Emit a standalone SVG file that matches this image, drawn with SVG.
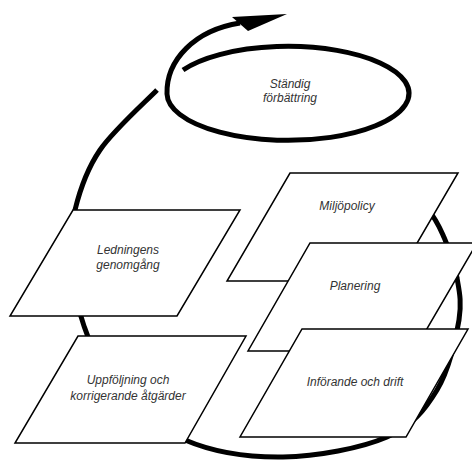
<svg xmlns="http://www.w3.org/2000/svg" width="472" height="461" viewBox="0 0 472 461">
<style>
.loop{fill:none;stroke:#000;stroke-width:5;stroke-linecap:butt}
.box{fill:#fff;stroke:#000;stroke-width:1.5;stroke-linejoin:miter}
.lbl{font-family:"Liberation Sans",Arial,sans-serif;font-size:12px;font-style:italic;fill:#333;text-anchor:middle}
</style>
<rect width="472" height="461" fill="#fff"/>
<g id="connectors">
<path class="loop" d="M157,90 C147.5,100 113.7,130 100,150 C86.3,170 79.7,190.8 75,210 C70.3,229.2 70.5,245.7 72,265 C73.5,284.3 76.8,306 84,326 C91.2,346 98.2,366 115,385 C131.8,404 157,428 185,440 C213,452 249.3,457.5 283,457 C316.7,456.5 361.3,448.2 387,437 C412.7,425.8 425.2,409.5 437,390 C448.8,370.5 456,339 459,320 C462,301 459,290 457,278 C455,262 448,246.7 443,235 C438,223.3 432.2,214.2 425,205 C417.8,195.8 404.2,184.2 400,180"/>
<path class="loop" d="M183,70 A121,47 0 1 1 167,94 C166,60 195,30 240,23"/>
<polygon points="287,14 232,17 240,24 248,31" fill="#000"/>
</g>
<g id="node-standig">
<text class="lbl" x="290" y="88">Ständig</text>
<text class="lbl" x="290" y="102">förbättring</text>
</g>
<g id="node-ledningens">
<polygon class="box" points="73,210 240,210 177,316 10,316"/>
<text class="lbl" x="128" y="254">Ledningens</text>
<text class="lbl" x="128" y="269">genomgång</text>
</g>
<g id="node-uppfoljning">
<polygon class="box" points="78,336 246,336 185,443 15,443"/>
<text class="lbl" x="128" y="384">Uppföljning och</text>
<text class="lbl" x="128" y="400">korrigerande åtgärder</text>
</g>
<g id="node-miljopolicy">
<polygon class="box" points="290,173 458,173 395,281 227,281"/>
<text class="lbl" x="347" y="210">Miljöpolicy</text>
</g>
<g id="node-planering">
<polygon class="box" points="310,243 477,243 414,351 248,351"/>
<text class="lbl" x="355" y="290">Planering</text>
</g>
<g id="node-inforande">
<polygon class="box" points="302,329 468,329 406,437 240,437"/>
<text class="lbl" x="355" y="386">Införande och drift</text>
</g>
</svg>
